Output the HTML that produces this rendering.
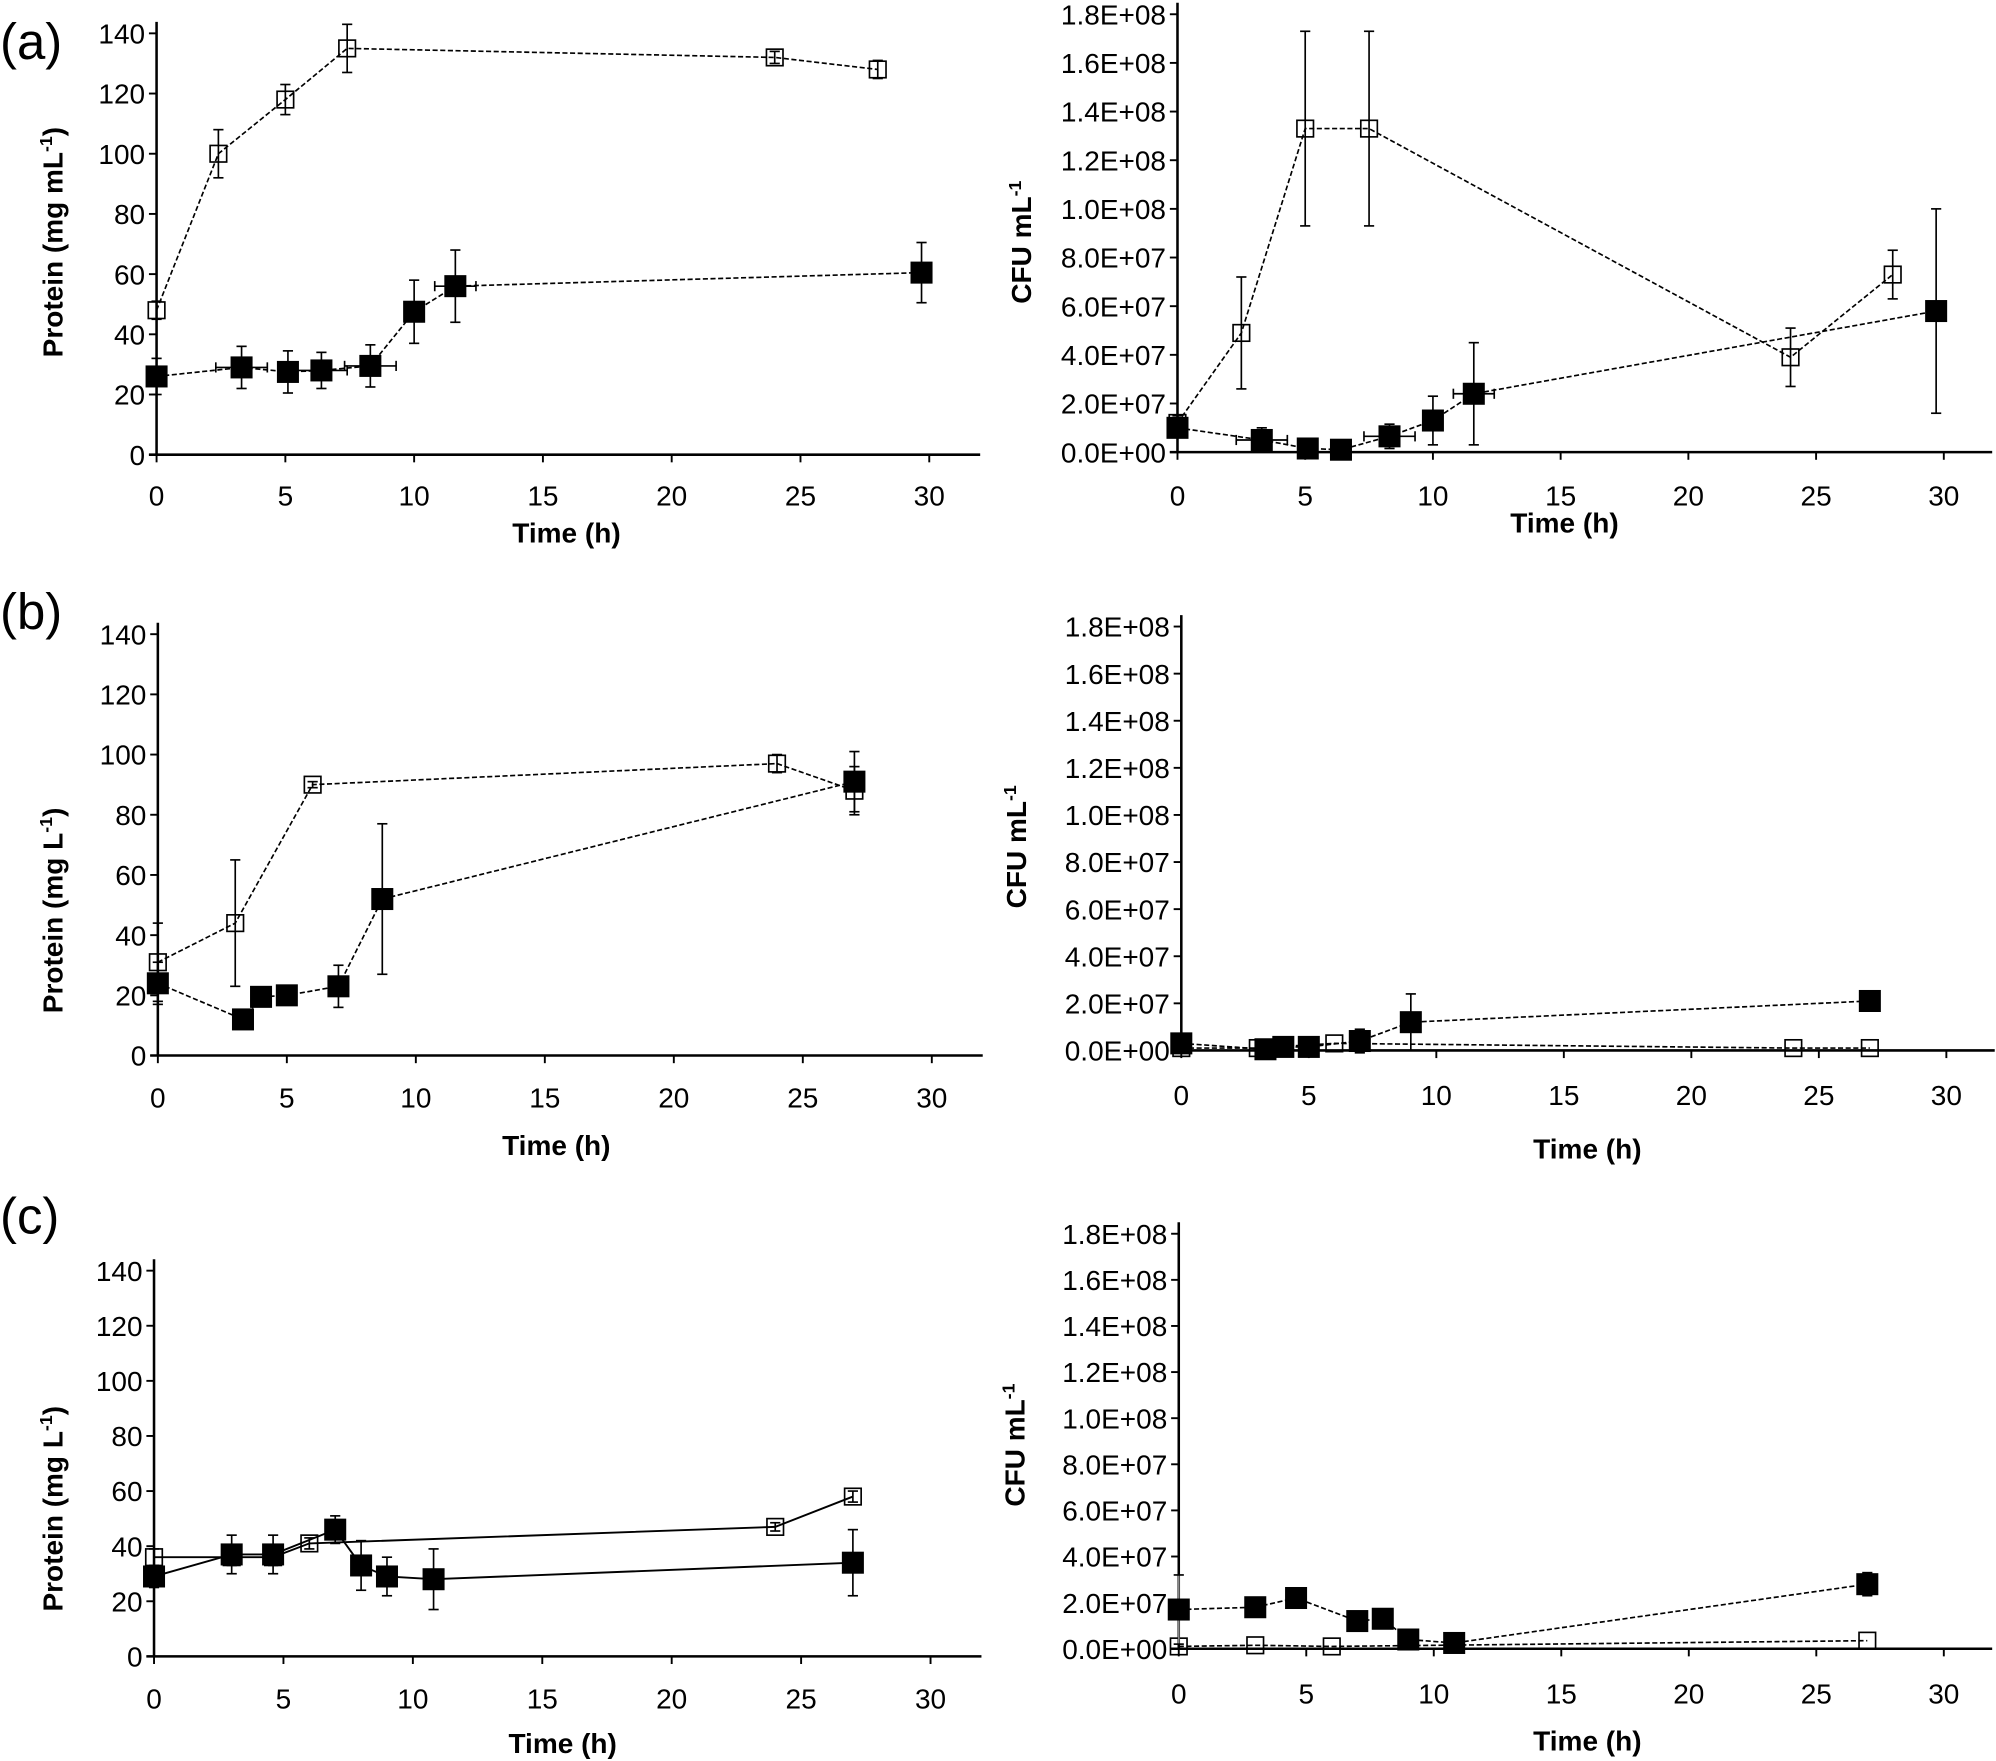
<!DOCTYPE html>
<html><head><meta charset="utf-8"><style>
html,body{margin:0;padding:0;background:#fff}
svg{display:block}
text{font-family:"Liberation Sans",sans-serif;fill:#000}
.tick{font-family:"Liberation Sans Narrow","Liberation Sans",sans-serif;font-size:22px}
.ttl{font-weight:bold;font-size:22px}
</style></head><body>
<svg id="fig" width="1996" height="1761" viewBox="0 0 1568 1383"></svg>
<script>
// ---- data (x = time h, y = value, e = y error, xe = x error) ----
const aL_open_x=[0,2.4,5,7.4,24,28];
const aL_open_y=[48,100,118,135,132,128];
const aL_open_e=[3,8,5,8,2,3];
const aL_fill_x=[0,3.3,5.1,6.4,8.3,10,11.6,29.7];
const aL_fill_y=[26,29,27.5,28,29.5,47.5,56,60.5];
const aL_fill_e=[6,7,7,6,7,10.5,12,10];
const aL_fill_xe=[0,1,0,1,1,0,0.8,0];
const aR_open_x=[0,2.5,5,7.5,24,28];
const aR_open_y=[1.2e7,4.9e7,1.33e8,1.33e8,3.9e7,7.3e7];
const aR_open_e=[3e6,2.3e7,4e7,4e7,1.2e7,1e7];
const aR_fill_x=[0,3.3,5.1,6.4,8.3,10,11.6,29.7];
const aR_fill_y=[1.0e7,5e6,1.5e6,1e6,6.5e6,1.3e7,2.4e7,5.8e7];
const aR_fill_e=[4e6,5e6,0,0,5e6,1e7,2.1e7,4.2e7];
const aR_fill_xe=[0,1,0,0,1,0,0.8,0];
const bL_open_x=[0,3,6,24,27];
const bL_open_y=[31,44,90,97,88];
const bL_open_e=[13,21,1,3,8];
const bL_fill_x=[0,3.3,4,5,7,8.7,27];
const bL_fill_y=[24,12,19.5,20,23,52,91];
const bL_fill_e=[7,3,3,2,7,25,10];
const bR_open_x=[0,3,6,24,27];
const bR_open_y=[1e6,1e6,3e6,1e6,1e6];
const bR_open_e=[0,0,0,0,0];
const bR_fill_x=[0,3.3,4,5,7,9,27];
const bR_fill_y=[3e6,0.5e6,1.5e6,1.5e6,4e6,1.2e7,2.1e7];
const bR_fill_e=[0,0,0,0,5e6,1.2e7,1e6];
const cL_open_x=[0,3,4.6,6,24,27];
const cL_open_y=[36,36,36,41,47,58];
const cL_open_e=[3,3,3,2,1.5,2];
const cL_fill_x=[0,3,4.6,7,8,9,10.8,27];
const cL_fill_y=[29,37,37,46,33,29,28,34];
const cL_fill_e=[4,7,7,5,9,7,11,12];
const cR_open_x=[0,3,6,27];
const cR_open_y=[1e6,1.5e6,1e6,3.5e6];
const cR_open_e=[0,0,0,0];
const cR_fill_x=[0,3,4.6,7,8,9,10.8,27];
const cR_fill_y=[1.7e7,1.8e7,2.2e7,1.2e7,1.3e7,4e6,2.5e6,2.8e7];
const cR_fill_e=[1.5e7,3e6,2e6,2e6,2e6,3e6,1e6,5e6];
const protTicks=[0,20,40,60,80,100,120,140];
const cfuTicks=["0.0E+00","2.0E+07","4.0E+07","6.0E+07","8.0E+07","1.0E+08","1.2E+08","1.4E+08","1.6E+08","1.8E+08"];
const timeTicks=[0,5,10,15,20,25,30];

const NS="http://www.w3.org/2000/svg";
const svg=document.getElementById('fig');
function mk(tag,at,parent){const e=document.createElementNS(NS,tag);for(const k in at)e.setAttribute(k,at[k]);(parent||svg).appendChild(e);return e;}

function panel(id,p){
  const g=mk('g',{});
  
  
  const X=t=>p.x0+(p.x30-p.x0)*t/30;
  const Y=v=>p.y0-(p.y0-p.ytop)*v/p.ymax;
  const ya=mk('line',{x1:p.x0,y1:p.y0,x2:p.x0,y2:p.ytop-9,stroke:'#000','stroke-width':2},g);
  
  const xa=mk('line',{x1:p.x0-6,y1:p.y0,x2:p.xend,y2:p.y0,stroke:'#000','stroke-width':2},g);
  
  const n=p.ticks.length;
  p.ticks.forEach((t,i)=>{
    const v=p.ymax*i/(n-1),y=Y(v);
    mk('line',{x1:p.x0-6,y1:y,x2:p.x0,y2:y,stroke:'#000','stroke-width':1.5},g);
    const tx=mk('text',{x:p.x0-9,y:y+8,'text-anchor':'end',class:'tick'},g);tx.textContent=t;
    
  });
  timeTicks.forEach(t=>{
    const x=X(t);
    mk('line',{x1:x,y1:p.y0,x2:x,y2:p.y0+6,stroke:'#000','stroke-width':1.5},g);
    const tx=mk('text',{x:x,y:p.xly,'text-anchor':'middle',class:'tick'},g);tx.textContent=t;
    
  });
  const xt=mk('text',{x:p.xtx,y:p.xty,'text-anchor':'middle',class:'ttl'},g);xt.textContent='Time (h)';
  
  const yt=mk('text',{transform:`translate(${p.ytx},${p.yty}) rotate(-90)`,'text-anchor':'middle',class:'ttl'},g);
  yt.innerHTML=p.ylab;
  
  p.series.forEach(s=>{
    const sg=mk('g',{},g);
    
    
    const pts=s.x.map((t,i)=>X(t)+','+Y(s.y[i])).join(' ');
    mk('polyline',{points:pts,fill:'none',stroke:'#000','stroke-width':s.solid?1.5:1.3,'stroke-dasharray':s.solid?'none':'4,2'},sg);
    s.x.forEach((t,i)=>{
      const cx=X(t),cy=Y(s.y[i]),e=s.e[i];
      if(e>0){
        const y1=Y(s.y[i]+e),y2=Y(Math.max(s.y[i]-e,p.clip0?0:-1e12));
        mk('line',{x1:cx,y1:y1,x2:cx,y2:y2,stroke:s.grey&&i===0?'#888':'#000','stroke-width':1.3},sg);
        mk('line',{x1:cx-4,y1:y1,x2:cx+4,y2:y1,stroke:'#000','stroke-width':1.3},sg);
        mk('line',{x1:cx-4,y1:y2,x2:cx+4,y2:y2,stroke:'#000','stroke-width':1.3},sg);
      }
      if(s.xe&&s.xe[i]>0){
        const xa1=X(t-s.xe[i]),xa2=X(t+s.xe[i]);
        mk('line',{x1:xa1,y1:cy,x2:xa2,y2:cy,stroke:'#000','stroke-width':1.3},sg);
        mk('line',{x1:xa1,y1:cy-4,x2:xa1,y2:cy+4,stroke:'#000','stroke-width':1.3},sg);
        mk('line',{x1:xa2,y1:cy-4,x2:xa2,y2:cy+4,stroke:'#000','stroke-width':1.3},sg);
      }
      const sz=s.filled?16:13;
      const r=mk('rect',{x:cx-sz/2,y:cy-sz/2,width:sz,height:sz,fill:s.filled?'#000':'none',stroke:'#000','stroke-width':1.3},sg);
      
      
    });
  });
}
const prot='Protein (mg mL<tspan dy="-8" font-size="14">-1</tspan><tspan dy="8">)</tspan>';
const protL='Protein (mg L<tspan dy="-8" font-size="14">-1</tspan><tspan dy="8">)</tspan>';
const cfu='CFU mL<tspan dy="-8" font-size="14">-1</tspan>';
function S(name,x,y,e,filled,xe,solid,grey){return {name,x,y,e,filled,xe,solid,grey};}
panel('a-protein',{x0:123,x30:730,xend:770,y0:357,ytop:26,ymax:140,ticks:protTicks,xly:397,xtx:445,xty:426,ytx:49,yty:190,ylab:prot,clip0:true,
 series:[S('open-series',aL_open_x,aL_open_y,aL_open_e,false),S('filled-series',aL_fill_x,aL_fill_y,aL_fill_e,true,aL_fill_xe)]});
panel('a-cfu',{x0:925,x30:1527,xend:1565,y0:355,ytop:11,ymax:1.8e8,ticks:cfuTicks,xly:397,xtx:1229,xty:418,ytx:810,yty:190,ylab:cfu,clip0:false,
 series:[S('open-series',aR_open_x,aR_open_y,aR_open_e,false),S('filled-series',aR_fill_x,aR_fill_y,aR_fill_e,true,aR_fill_xe)]});
panel('b-protein',{x0:124,x30:732,xend:772,y0:829,ytop:498,ymax:140,ticks:protTicks,xly:870,xtx:437,xty:907,ytx:49,yty:715,ylab:protL,clip0:true,
 series:[S('open-series',bL_open_x,bL_open_y,bL_open_e,false),S('filled-series',bL_fill_x,bL_fill_y,bL_fill_e,true)]});
panel('b-cfu',{x0:928,x30:1529,xend:1567,y0:825,ytop:492,ymax:1.8e8,ticks:cfuTicks,xly:868,xtx:1247,xty:910,ytx:806,yty:665,ylab:cfu,clip0:false,
 series:[S('open-series',bR_open_x,bR_open_y,bR_open_e,false),S('filled-series',bR_fill_x,bR_fill_y,bR_fill_e,true)]});
panel('c-protein',{x0:121,x30:731,xend:771,y0:1301,ytop:998,ymax:140,ticks:protTicks,xly:1342,xtx:442,xty:1377,ytx:49,yty:1185,ylab:protL,clip0:true,
 series:[S('open-series',cL_open_x,cL_open_y,cL_open_e,false,null,true),S('filled-series',cL_fill_x,cL_fill_y,cL_fill_e,true,null,true)]});
panel('c-cfu',{x0:926,x30:1527,xend:1565,y0:1295,ytop:969,ymax:1.8e8,ticks:cfuTicks,xly:1338,xtx:1247,xty:1375,ytx:805,yty:1135,ylab:cfu,clip0:false,
 series:[S('open-series',cR_open_x,cR_open_y,cR_open_e,false),S('filled-series',cR_fill_x,cR_fill_y,cR_fill_e,true,null,false,true)]});
[['(a)',34],['(b)',482],['(c)',957]].forEach(([t,y])=>{
  const e=mk('text',{x:0,y:y+12,'font-size':40},svg);e.textContent=t;
  
  
});
</script>
</body></html>
